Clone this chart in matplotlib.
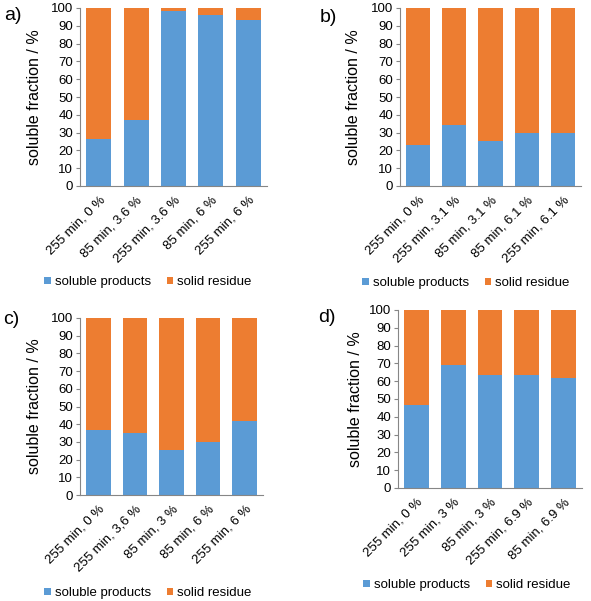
import matplotlib
matplotlib.use("Agg")
import matplotlib.pyplot as plt
import numpy as np

plt.rcParams['font.family'] = ['Liberation Sans', 'DejaVu Sans']

W, H = 591, 601

labels_a = ["255 min, 0 %", "85 min, 3.6 %", "255 min, 3.6 %", "85 min, 6 %", "255 min, 6 %"]
soluble_a = [26.5, 37, 98.5, 96, 93]

labels_b = ["255 min, 0 %", "255 min, 3.1 %", "85 min, 3.1 %", "85 min, 6.1 %", "255 min, 6.1 %"]
soluble_b = [23, 34, 25, 30, 30]

labels_c = ["255 min, 0 %", "255 min, 3,6 %", "85 min, 3 %", "85 min, 6 %", "255 min, 6 %"]
soluble_c = [37, 35, 25.5, 30, 42]

labels_d = ["255 min, 0 %", "255 min, 3 %", "85 min, 3 %", "255 min, 6.9 %", "85 min, 6.9 %"]
soluble_d = [46.5, 69, 63.5, 63.5, 62]

series_names = ["soluble products", "solid residue"]
yticks = [0, 10, 20, 30, 40, 50, 60, 70, 80, 90, 100]

BLUE = "#5B9BD5"
ORANGE = "#ED7D31"
AXC = "#868686"

fig = plt.figure(figsize=(W / 100, H / 100), dpi=100)


def px_axes(left, right, top, bottom):
    return fig.add_axes([left / W, 1 - bottom / H, (right - left) / W, (bottom - top) / H])


panels = [
    ("a)", labels_a, soluble_a, (80, 267, 8, 186), (4, 16), 35, (148, 282)),
    ("b)", labels_b, soluble_b, (400, 581, 8, 186), (320, 17), 353, (466, 283)),
    ("c)", labels_c, soluble_c, (80, 263, 318, 495), (3, 320), 35, (148, 593)),
    ("d)", labels_d, soluble_d, (398, 582, 310, 488), (318, 317), 355, (467, 585)),
]

for tag, labels, sol, (l, r, t, b), (tx, ty), ylx, (lgx, lgy) in panels:
    ax = px_axes(l, r, t, b)
    x = np.arange(len(labels))
    sol = np.array(sol)
    res = 100 - sol
    h1 = ax.bar(x, sol, width=0.67, color=BLUE, label=series_names[0])
    h2 = ax.bar(x, res, bottom=sol, width=0.67, color=ORANGE, label=series_names[1])
    ax.set_xlim(-0.5, len(labels) - 0.5)
    ax.set_ylim(0, 100)
    ax.set_yticks(yticks)
    ax.tick_params(axis='y', labelsize=9.5, length=3, color=AXC, pad=2)
    ax.tick_params(axis='x', length=0, pad=6)
    ax.set_xticks(x)
    ax.set_xticklabels(labels, rotation=45, ha='right', va='top', rotation_mode='anchor', fontsize=9.5)
    for s in ['top', 'right']:
        ax.spines[s].set_visible(False)
    for s in ['left', 'bottom']:
        ax.spines[s].set_color(AXC)
        ax.spines[s].set_linewidth(0.8)
    fig.text(tx / W, 1 - ty / H, tag, fontsize=14, ha='left', va='center')
    fig.text(ylx / W, 1 - ((t + b) / 2) / H, "soluble fraction / %", rotation=90,
             fontsize=11.5, ha='center', va='center')
    fig.legend(handles=[h1, h2], loc='center', bbox_to_anchor=(lgx / W, 1 - lgy / H),
               ncol=2, frameon=False, fontsize=9.5, handlelength=0.5, handleheight=0.5,
               handletextpad=0.3, columnspacing=1.2, borderpad=0)

fig.savefig("out.png", dpi=100)
